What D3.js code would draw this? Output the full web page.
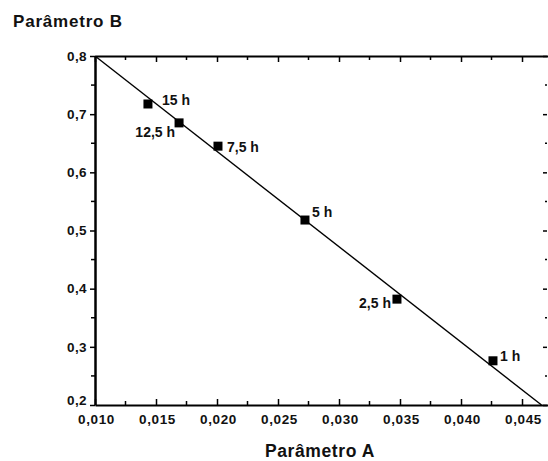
<!DOCTYPE html>
<html>
<head>
  <meta charset="utf-8">
  <title>Parâmetro A x Parâmetro B</title>
  <script src="https://cdn.jsdelivr.net/npm/d3@7"></script>
  <style>
    body { margin: 0; background: #fff; }
    svg text { font-family: "Liberation Sans", Arial, sans-serif; font-weight: bold; fill: #111; }
  </style>
</head>
<body>
  <div class="area"></div>
  <script>
  // data
  var labels = ['15 h', '12,5 h', '7,5 h', '5 h', '2,5 h', '1 h'];
  var paramA = [0.01434, 0.01689, 0.02008, 0.02721, 0.03475, 0.04262];
  var paramB = [0.7175, 0.685, 0.645, 0.518, 0.382, 0.276];
  var fitA = [0.010, 0.0466];
  var fitB = [0.8, 0.2];
  var xTicks = [0.010, 0.015, 0.020, 0.025, 0.030, 0.035, 0.040, 0.045];
  var yTicks = [0.2, 0.3, 0.4, 0.5, 0.6, 0.7, 0.8];

  var w = 548, h = 461;

  // where each point label sits relative to its marker
  var place = {
    '15 h':   {dx: 14,  dy: 1,  anchor: 'start'},
    '12,5 h': {dx: -4,  dy: 14, anchor: 'end'},
    '7,5 h':  {dx: 9,   dy: 6,  anchor: 'start'},
    '5 h':    {dx: 7,   dy: -3, anchor: 'start'},
    '2,5 h':  {dx: -6,  dy: 9,  anchor: 'end'},
    '1 h':    {dx: 7,   dy: 0,  anchor: 'start'}
  };

  var svg = d3.select('.area').append('svg')
    .attr('width', w).attr('height', h);

  var x = d3.scaleLinear().domain([0.010, 0.04713]).range([95, w]);
  var y = d3.scaleLinear().domain([0.2, 0.8]).range([405, 56]);

  var fmtX = function(d){ return d3.format('.3f')(d).replace('.', ','); };
  var fmtY = function(d){ return d3.format('.1f')(d).replace('.', ','); };

  var xMinor = d3.range(0.0125, 0.0471, 0.005);
  var yMinor = d3.range(0.25, 0.8, 0.1);

  // bottom axis, ticks inward
  var gBottom = svg.append('g').attr('transform', 'translate(0,' + y(0.2) + ')')
    .call(d3.axisBottom(x).tickValues(xTicks).tickFormat(fmtX).tickSizeInner(-6).tickSizeOuter(0));
  gBottom.selectAll('.tick text').attr('font-size', 13.5).attr('letter-spacing', 0.6)
    .attr('y', 0).attr('dy', 19).attr('dx', 1);
  gBottom.append('g').selectAll('line').data(xMinor).join('line')
    .attr('x1', x).attr('x2', x).attr('y1', 0).attr('y2', -4).attr('stroke', '#000').attr('stroke-width', 1.5);

  // top axis
  var gTop = svg.append('g').attr('transform', 'translate(0,' + y(0.8) + ')')
    .call(d3.axisTop(x).tickValues(xTicks).tickFormat('').tickSizeInner(-6).tickSizeOuter(0));
  gTop.append('g').selectAll('line').data(xMinor).join('line')
    .attr('x1', x).attr('x2', x).attr('y1', 0).attr('y2', 4).attr('stroke', '#000').attr('stroke-width', 1.5);

  // left axis, ticks outward
  var gLeft = svg.append('g').attr('transform', 'translate(' + x(0.010) + ',0)')
    .call(d3.axisLeft(y).tickValues(yTicks).tickFormat(fmtY).tickSizeInner(5).tickSizeOuter(0).tickPadding(3));
  gLeft.selectAll('.tick text').attr('font-size', 13.5).attr('letter-spacing', 0.4);
  gLeft.selectAll('.tick').filter(function(d){ return d === 0.2; }).select('text').attr('dy', '-0.05em');
  gLeft.append('g').selectAll('line').data(yMinor).join('line')
    .attr('y1', y).attr('y2', y).attr('x1', 0).attr('x2', -4).attr('stroke', '#000').attr('stroke-width', 1.5);

  // right axis, ticks inward
  var gRight = svg.append('g').attr('transform', 'translate(' + (w - 1) + ',0)')
    .call(d3.axisRight(y).tickValues(yTicks).tickFormat('').tickSizeInner(-4).tickSizeOuter(0));
  gRight.append('g').selectAll('line').data(yMinor).join('line')
    .attr('y1', y).attr('y2', y).attr('x1', 0).attr('x2', -2).attr('stroke', '#000').attr('stroke-width', 1.5);
  gRight.select('.domain').attr('stroke', 'none');

  svg.selectAll('.domain').attr('stroke-width', 2);
  gLeft.select('.domain').attr('stroke-width', 2.5);
  svg.selectAll('.tick line').attr('stroke-width', 1.5);

  // fitted line
  var line = d3.line().x(function(d){ return x(d[0]); }).y(function(d){ return y(d[1]); });
  svg.append('path').datum(d3.zip(fitA, fitB))
    .attr('d', line).attr('fill', 'none').attr('stroke', '#000').attr('stroke-width', 1.4);

  // points
  var pts = labels.map(function(l, i){ return {label: l, a: paramA[i], b: paramB[i]}; });
  var s = 9;
  svg.append('g').selectAll('rect').data(pts).join('rect')
    .attr('x', function(d){ return x(d.a) - s / 2; })
    .attr('y', function(d){ return y(d.b) - s / 2; })
    .attr('width', s).attr('height', s).attr('fill', '#000');

  svg.append('g').selectAll('text').data(pts).join('text')
    .attr('x', function(d){ return x(d.a) + place[d.label].dx; })
    .attr('y', function(d){ return y(d.b) + place[d.label].dy; })
    .attr('text-anchor', function(d){ return place[d.label].anchor; })
    .attr('font-size', 14)
    .text(function(d){ return d.label; });

  // axis titles
  svg.append('text').attr('x', 13).attr('y', 27).attr('font-size', 17).attr('letter-spacing', 0.8).text('Parâmetro B');
  svg.append('text').attr('x', 320).attr('y', 457).attr('text-anchor', 'middle').attr('font-size', 17.5).attr('letter-spacing', 0.6).text('Parâmetro A');
  </script>
</body>
</html>
